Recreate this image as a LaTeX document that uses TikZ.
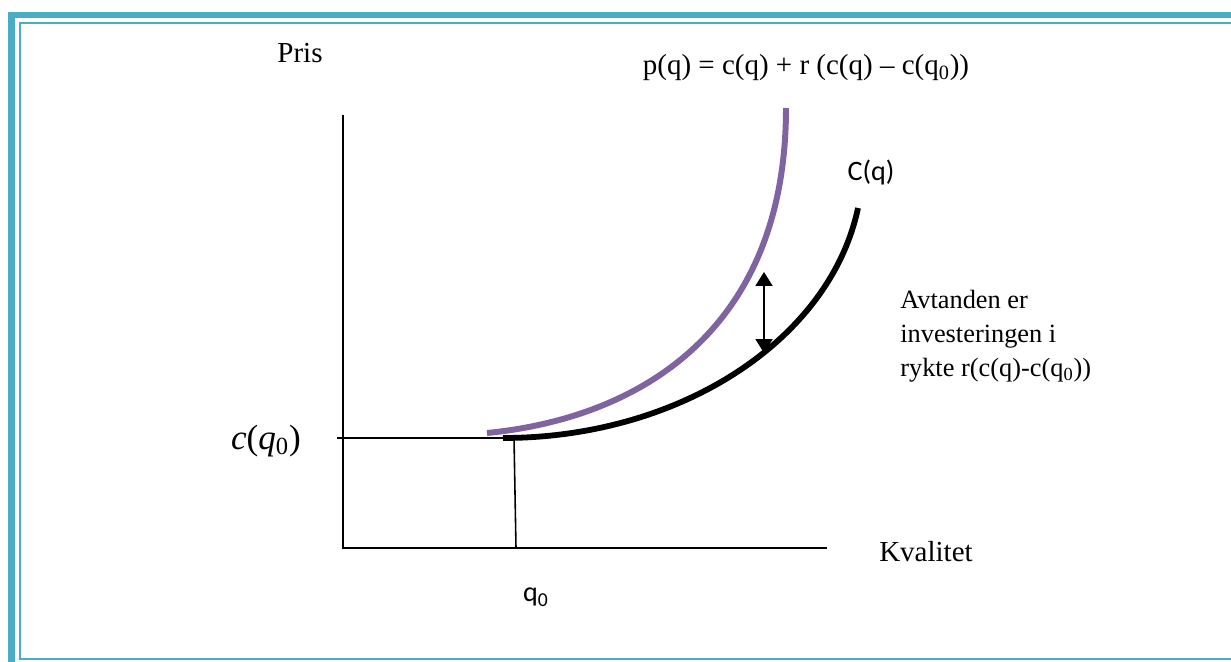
\documentclass[tikz,border=0pt]{standalone}
\usepackage{fontspec}
\setmainfont{Liberation Serif}
\newfontfamily\calibri{Carlito}
\usetikzlibrary{arrows.meta,positioning}
\definecolor{frameblue}{HTML}{4BACC6}
\definecolor{pricepurple}{HTML}{8064A2}
\tikzset{
    market diagram/.style = {x=0.02cm, y=-0.02cm,
                             >={Triangle[length=2.8mm, width=3.4mm]}},
    axis/.style           = {line width=1.1pt},
    guide/.style          = {line width=0.9pt},
    cost curve/.style     = {line width=3.3pt},
    price curve/.style    = {line width=3.4pt, draw=pricepurple},
    gap/.style            = {line width=1.1pt},
    lbl/.style            = {inner sep=0pt, font=\fontsize{16.5}{19}\selectfont},
    sans lbl/.style       = {inner sep=0pt, font=\calibri\fontsize{16}{19}\selectfont},
    note/.style           = {inner sep=0pt, align=left,
                             font=\fontsize{15}{19.3}\selectfont},
    frame bar/.style      = {fill=frameblue},
    frame line/.style     = {draw=frameblue, line width=1.4pt}
}

\begin{document}
\begin{tikzpicture}[market diagram]
\useasboundingbox (0,0) rectangle (1231,662);

% Page frame (thick bar plus thin inner line)
\fill[frame bar] (8,12) rectangle (1231,18);
\fill[frame bar] (8,12) rectangle (15,662);
\draw[frame line] (1231,23) -- (20,23) -- (20,659) -- (1231,659);

% Axes
\coordinate (origin) at (343,548);
\coordinate (ytop)   at (343,115);
\coordinate (xend)   at (827,548);
\draw[axis] (ytop) -- (origin) -- (xend);

% Start level c(q0) and quality q0
\coordinate (tick)   at (337,438);
\coordinate (c0end)  at (512,438);
\coordinate (q0top)  at (514,438);
\coordinate (q0foot) at (516,548);
\draw[guide] (tick) -- (c0end);
\draw[guide] (q0top) -- (q0foot);

% Cost curve and price curve
\coordinate (cstart) at (503,438);
\coordinate (cend)   at (858,208);
\coordinate (pstart) at (487,433);
\coordinate (pend)   at (786,108);
\draw[cost curve] (cstart) .. controls (680,438) and (830,340) .. (cend);
\draw[price curve] (pstart) .. controls (640,418) and (786,330) .. (pend);

% Gap between the curves
\coordinate (gaptop) at (764,272);
\coordinate (gapbot) at (764,353);
\draw[gap, <->] (gaptop) -- (gapbot);

% Labels
\node[lbl] (pris) at (300,53) {Pris};
\node[lbl] (price) at (806,68)
    {p(q) = c(q) + r (c(q) – c(q\textsubscript{0}))};
\node[sans lbl] (costlbl) at (871,172) {C(q)};
\node[note, anchor=north west] (gapnote) at (900,290)
    {Avtanden er\\investeringen i\\rykte r(c(q)-c(q\textsubscript{0}))};
\node[lbl, font=\fontsize{20}{24}\selectfont] (c0lbl) at (266,441)
    {\textit{c}(\textit{q}\textsubscript{0})};
\node[lbl] (kval) at (926,552) {Kvalitet};
\node[sans lbl] (q0lbl) at (536,597) {q\textsubscript{0}};

\end{tikzpicture}
\end{document}
